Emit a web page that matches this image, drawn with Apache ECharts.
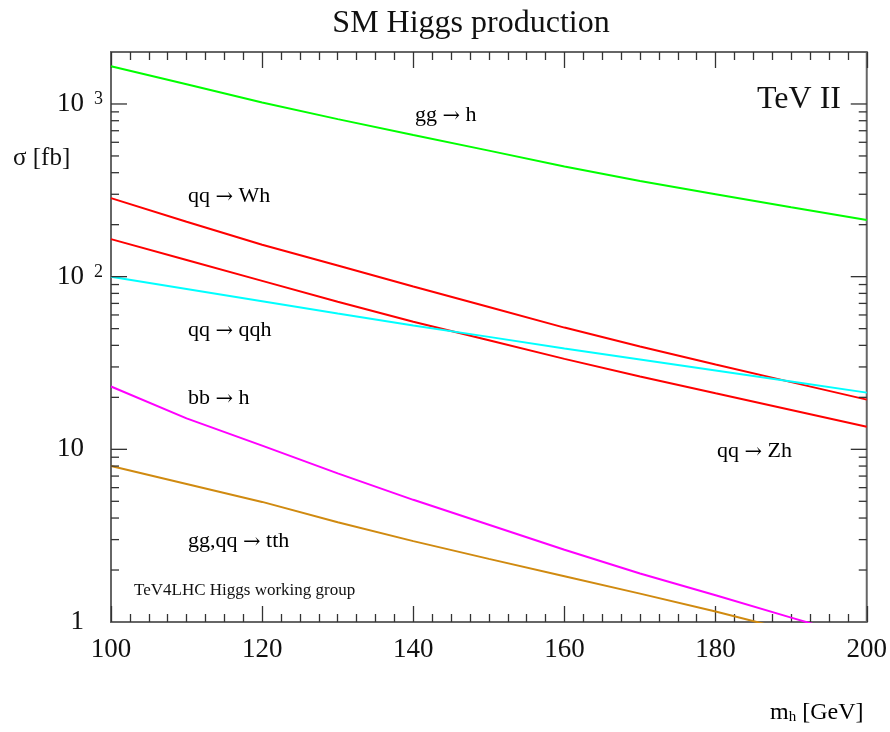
<!DOCTYPE html>
<html>
<head>
<meta charset="utf-8">
<script src="https://cdn.jsdelivr.net/npm/echarts@6/dist/echarts.min.js"></script>
<style>
  html, body { margin: 0; padding: 0; background: #fff; }
  #chart { width: 890px; height: 732px; }
</style>
</head>
<body>
<div id="chart"></div>
<script>
// Higgs mass points [GeV]
const masses = [100, 110, 120, 130, 140, 150, 160, 170, 180, 190, 200];

// cross sections [fb]
const ggH = [1656, 1300, 1021, 817, 662, 537, 435, 358, 300, 252, 213];
const wH = [285, 208, 153, 116, 87.7, 66.7, 50.7, 39.4, 31.0, 24.5, 19.4];
const zH = [165, 125, 94.5, 71.5, 54.8, 42.8, 33.4, 26.4, 21.1, 16.9, 13.5];
const qqH = [100, 84.9, 72.1, 61.2, 52.2, 44.8, 38.4, 33.1, 28.6, 24.7, 21.3];
const bbH = [23.1, 15.1, 10.5, 7.26, 5.10, 3.66, 2.62, 1.91, 1.43, 1.06, 0.79];
const ttH = [8.0, 6.3, 4.96, 3.78, 2.94, 2.32, 1.84, 1.46, 1.15, 0.89, 0.70];

// log axis tick positions (majors are the powers of ten)
const yTicks = [2, 3, 4, 5, 6, 7, 8, 9, 10, 20, 30, 40, 50, 60, 70, 80, 90,
  100, 200, 300, 400, 500, 600, 700, 800, 900, 1000];

const serif = "'Liberation Serif', 'DejaVu Serif', serif";

function pairs(values) {
  return masses.map((m, i) => [m, values[i]]);
}

function lineSeries(name, values, color) {
  return {
    name,
    type: "line",
    data: pairs(values),
    showSymbol: false,
    smooth: false,
    lineStyle: { width: 2, color },
    z: 3,
  };
}

function isDecade(v) {
  const e = Math.log10(v);
  return Math.abs(e - Math.round(e)) < 1e-6;
}

// process label: "left → right", arrow drawn with a wider glyph
function procLabel(left, right, x, y) {
  return {
    type: "text",
    x,
    y,
    style: {
      text: `{t|${left} }{a|→}{t| ${right}}`,
      verticalAlign: "middle",
      rich: {
        t: { fontFamily: serif, fontSize: 22, lineHeight: 24, color: "#111" },
        a: { fontFamily: "'DejaVu Serif', serif", fontSize: 21, lineHeight: 14, verticalAlign: "bottom", color: "#111" },
      },
    },
  };
}

function label(text, x, y, size) {
  return {
    type: "text",
    x,
    y,
    style: { text, font: `${size}px ${serif}`, fill: "#111", verticalAlign: "middle", align: "left" },
  };
}

const xAxisBase = {
  type: "value",
  min: 100,
  max: 200,
  interval: 20,
  axisLine: { show: false },
  axisTick: { show: true, inside: true, length: 16, lineStyle: { color: "#333", width: 1.3 } },
  minorTick: { show: true, splitNumber: 8, length: 8, lineStyle: { color: "#333", width: 1.3 } },
  splitLine: { show: false },
};

const chart = echarts.init(document.getElementById("chart"));

chart.setOption({
  backgroundColor: "#fff",
  animation: false,
  grid: {
    left: 111, right: 22, top: 52, bottom: 110,
    show: true, borderColor: "#666", borderWidth: 2,
  },
  xAxis: [
    {
      ...xAxisBase,
      position: "bottom",
      axisLabel: { fontFamily: serif, fontSize: 27, color: "#111", margin: 14 },
    },
    { ...xAxisBase, position: "top", axisLabel: { show: false } },
  ],
  yAxis: {
    type: "log",
    logBase: 10,
    min: 1,
    max: 2000,
    axisLine: { show: false },
    axisTick: { show: false },
    splitLine: { show: false },
    axisLabel: {
      margin: 8,
      formatter: (v) => {
        if (!isDecade(v)) return "";
        const k = Math.round(Math.log10(v));
        if (k === 0) return "{b|1}{p| }";
        if (k === 1) return "{b|10}{p| }";
        return "{b|10}{s|" + k + "}";
      },
      rich: {
        b: { fontFamily: serif, fontSize: 27, color: "#111", lineHeight: 27, padding: [9, 0, 0, 0], verticalAlign: "bottom" },
        s: { fontFamily: serif, fontSize: 18, color: "#111", lineHeight: 18, verticalAlign: "top", padding: [0, 0, 0, 10] },
        p: { fontSize: 18, width: 19 },
      },
    },
  },
  graphic: [
    {
      type: "text",
      x: 471,
      y: 24,
      style: { text: "SM Higgs production", font: `32px ${serif}`, fill: "#111", align: "center", verticalAlign: "middle" },
    },
    label("σ [fb]", 13, 158, 25),
    label("TeV II", 757, 100, 32),
    procLabel("gg", "h", 415, 115),
    procLabel("qq", "Wh", 188, 196),
    procLabel("qq", "qqh", 188, 330),
    procLabel("bb", "h", 188, 398),
    procLabel("qq", "Zh", 717, 451),
    procLabel("gg,qq", "tth", 188, 541),
    label("TeV4LHC Higgs working group", 134, 591, 17),
    {
      type: "text",
      x: 770,
      y: 713,
      style: {
        text: "{m|m}{h|h}{m| [GeV]}",
        verticalAlign: "middle",
        rich: {
          m: { fontFamily: serif, fontSize: 24, color: "#111", lineHeight: 24 },
          h: { fontFamily: serif, fontSize: 15, color: "#111", lineHeight: 15, verticalAlign: "bottom", padding: [12, 0, 0, 0] },
        },
      },
    },
  ],
  series: [
    lineSeries("gg → h", ggH, "#00ff00"),
    lineSeries("qq → Wh", wH, "#ff0000"),
    lineSeries("qq → Zh", zH, "#ff0000"),
    lineSeries("qq → qqh", qqH, "#00ffff"),
    lineSeries("bb → h", bbH, "#ff00ff"),
    lineSeries("gg,qq → tth", ttH, "#d08a10"),
    {
      // y-axis ticks on both sides of the frame
      type: "custom",
      data: yTicks.map((v) => [100, v]),
      clip: false,
      silent: true,
      z: 5,
      renderItem: (params, api) => {
        const v = api.value(1);
        const len = isDecade(v) ? 16 : 8;
        const l = api.coord([100, v]);
        const r = api.coord([200, v]);
        const style = { stroke: "#333", lineWidth: 1.3 };
        return {
          type: "group",
          children: [
            { type: "line", shape: { x1: l[0], y1: l[1], x2: l[0] + len, y2: l[1] }, style },
            { type: "line", shape: { x1: r[0] - len, y1: r[1], x2: r[0], y2: r[1] }, style },
          ],
        };
      },
    },
  ],
});

window.addEventListener("resize", () => chart.resize());
</script>
</body>
</html>
